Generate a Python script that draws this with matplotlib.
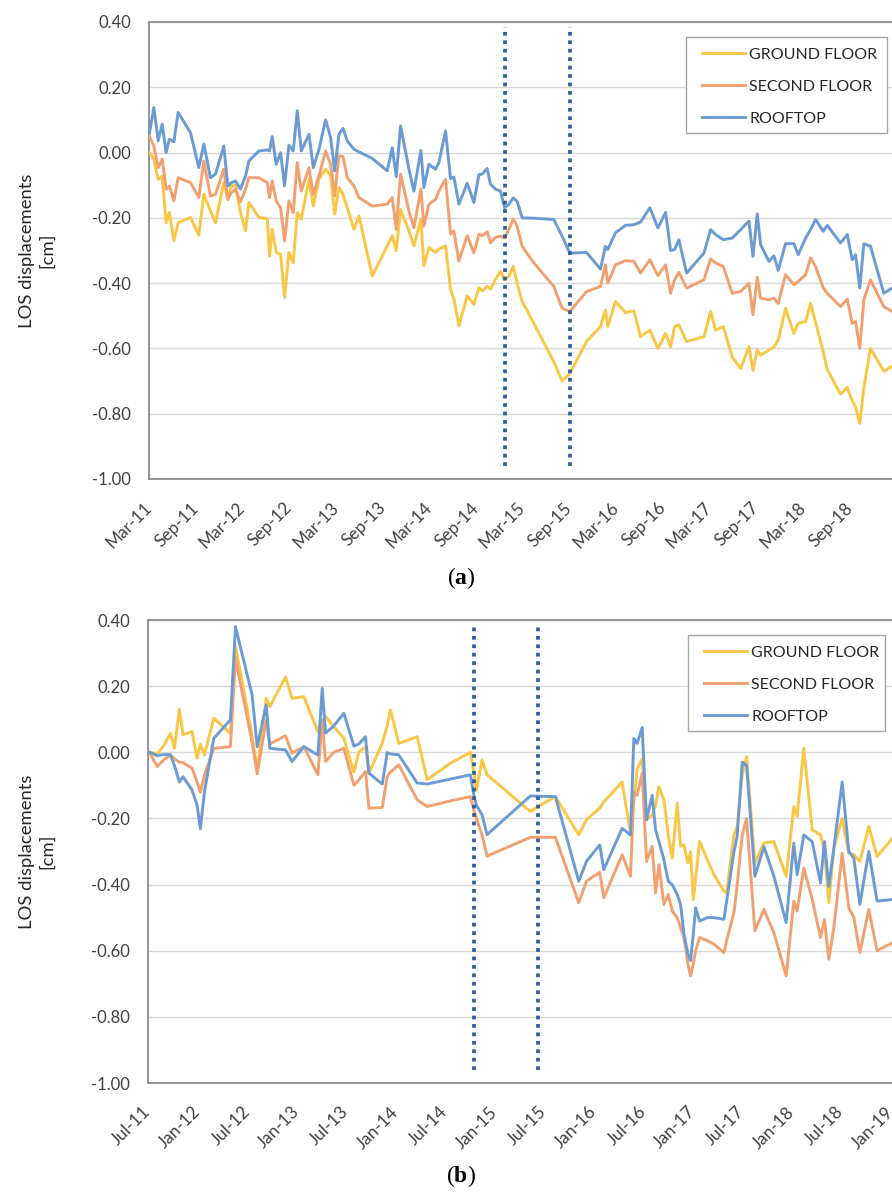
import matplotlib
matplotlib.use("Agg")
import matplotlib.pyplot as plt
import matplotlib.dates as mdates
from matplotlib.patches import Rectangle
from matplotlib.ticker import FuncFormatter
from datetime import datetime, timedelta

plt.rcParams['font.family'] = ['Lato', 'DejaVu Sans']
plt.rcParams['mathtext.fontset'] = 'custom'
plt.rcParams['mathtext.rm'] = 'Liberation Serif'
plt.rcParams['mathtext.bf'] = 'Liberation Serif:bold'

# ---------------- panel (a): acquisition dates (decimal years) and LOS displacements [cm]
years_a = [2011.167, 2011.213, 2011.260, 2011.303, 2011.345, 2011.381, 2011.428, 2011.474, 2011.606, 2011.695,
           2011.749, 2011.820, 2011.874, 2011.963, 2012.006, 2012.045, 2012.088, 2012.141, 2012.195, 2012.231,
           2012.338, 2012.427, 2012.452, 2012.480, 2012.523, 2012.570, 2012.612, 2012.659, 2012.705, 2012.748,
           2012.791, 2012.873, 2012.919, 2012.980, 2013.051, 2013.105, 2013.148, 2013.194, 2013.237, 2013.283,
           2013.355, 2013.408, 2013.551, 2013.711, 2013.765, 2013.808, 2013.854, 2013.944, 2013.997, 2014.072,
           2014.104, 2014.158, 2014.229, 2014.265, 2014.336, 2014.390, 2014.425, 2014.479, 2014.568, 2014.640,
           2014.693, 2014.729, 2014.782, 2014.818, 2014.871,
           2014.925, 2014.968, 2015.014, 2015.061, 2015.103, 2015.157, 2015.282, 2015.496, 2015.585, 2015.667,
           2015.846, 2015.996, 2016.049, 2016.074, 2016.156, 2016.263, 2016.353, 2016.424, 2016.524, 2016.610,
           2016.692, 2016.745, 2016.788, 2016.834, 2016.916, 2017.102, 2017.173, 2017.227, 2017.309, 2017.405,
           2017.495, 2017.584, 2017.627, 2017.673, 2017.709, 2017.798, 2017.852, 2017.898, 2017.976, 2018.066,
           2018.112, 2018.191, 2018.244, 2018.298, 2018.380, 2018.423, 2018.565, 2018.637, 2018.690, 2018.726,
           2018.772, 2018.815, 2018.886, 2019.029, 2019.118]

ground_a = [0.0, -0.020, -0.082, -0.072, -0.215, -0.184, -0.270, -0.215, -0.199, -0.253,
            -0.128, -0.179, -0.215, -0.092, -0.143, -0.102, -0.100, -0.184, -0.240, -0.153,
            -0.199, -0.202, -0.317, -0.235, -0.306, -0.311, -0.444, -0.306, -0.337, -0.184,
            -0.204, -0.082, -0.164, -0.082, -0.051, -0.072, -0.189, -0.107, -0.128, -0.169,
            -0.235, -0.194, -0.378, -0.286, -0.255, -0.301, -0.174, -0.240, -0.286, -0.204,
            -0.347, -0.291, -0.306, -0.296, -0.286, -0.419, -0.449, -0.531, -0.439, -0.465,
            -0.414, -0.424, -0.409, -0.419, -0.388,
            -0.364, -0.390, -0.379, -0.349, -0.400, -0.456, -0.523, -0.641, -0.700, -0.677,
            -0.579, -0.533, -0.482, -0.533, -0.456, -0.490, -0.485, -0.564, -0.544, -0.600,
            -0.554, -0.595, -0.533, -0.528, -0.579, -0.564, -0.487, -0.544, -0.533, -0.626,
            -0.662, -0.595, -0.667, -0.605, -0.621, -0.605, -0.595, -0.574, -0.477, -0.554,
            -0.523, -0.518, -0.462, -0.520, -0.610, -0.665, -0.740, -0.720, -0.760, -0.780,
            -0.830, -0.720, -0.600, -0.670, -0.655]

second_a = [0.050, 0.020, -0.046, -0.020, -0.112, -0.102, -0.148, -0.077, -0.092, -0.138,
            -0.026, -0.133, -0.128, -0.051, -0.143, -0.123, -0.112, -0.151, -0.112, -0.077,
            -0.077, -0.092, -0.138, -0.087, -0.148, -0.169, -0.271, -0.148, -0.184, -0.031,
            -0.118, -0.046, -0.128, -0.072, 0.005, -0.036, -0.133, -0.010, -0.012, -0.077,
            -0.102, -0.138, -0.164, -0.158, -0.138, -0.235, -0.066, -0.179, -0.230, -0.112,
            -0.225, -0.158, -0.143, -0.118, -0.082, -0.250, -0.240, -0.332, -0.255, -0.307,
            -0.250, -0.255, -0.243, -0.276, -0.260,
            -0.256, -0.262, -0.236, -0.203, -0.226, -0.287, -0.338, -0.410, -0.477, -0.487,
            -0.426, -0.410, -0.344, -0.400, -0.344, -0.331, -0.333, -0.369, -0.328, -0.377,
            -0.344, -0.431, -0.390, -0.367, -0.415, -0.390, -0.326, -0.338, -0.349, -0.431,
            -0.426, -0.400, -0.497, -0.382, -0.446, -0.451, -0.446, -0.462, -0.374, -0.405,
            -0.395, -0.374, -0.323, -0.349, -0.415, -0.431, -0.472, -0.449, -0.523, -0.518,
            -0.600, -0.451, -0.390, -0.472, -0.487]

rooftop_a = [0.060, 0.138, 0.036, 0.087, 0.0, 0.041, 0.033, 0.123, 0.061, -0.046,
             0.026, -0.077, -0.066, 0.020, -0.102, -0.092, -0.087, -0.112, -0.072, -0.026,
             0.005, 0.008, 0.005, 0.049, -0.036, 0.0, -0.102, 0.022, 0.005, 0.128,
             0.005, 0.056, -0.046, 0.010, 0.100, 0.046, -0.056, 0.056, 0.074, 0.036,
             0.010, 0.002, -0.018, -0.056, 0.015, -0.074, 0.082, -0.051, -0.118, 0.007,
             -0.107, -0.036, -0.051, -0.031, 0.066, -0.080, -0.075, -0.158, -0.094, -0.153,
             -0.068, -0.066, -0.049, -0.097, -0.112,
             -0.118, -0.169, -0.159, -0.139, -0.149, -0.200, -0.201, -0.205, -0.256, -0.308,
             -0.306, -0.357, -0.287, -0.297, -0.246, -0.223, -0.221, -0.213, -0.169, -0.231,
             -0.183, -0.300, -0.297, -0.267, -0.369, -0.308, -0.236, -0.251, -0.267, -0.262,
             -0.236, -0.210, -0.318, -0.188, -0.282, -0.333, -0.316, -0.361, -0.279, -0.279,
             -0.313, -0.262, -0.236, -0.205, -0.241, -0.223, -0.277, -0.251, -0.328, -0.313,
             -0.415, -0.279, -0.287, -0.431, -0.415]

events_a = ["2014-12-24", "2015-09-01"]

# ---------------- panel (b)
years_b = [2011.510, 2011.588, 2011.655, 2011.722, 2011.763, 2011.813, 2011.850, 2011.941, 2011.992, 2012.025,
           2012.066, 2012.160, 2012.328, 2012.379, 2012.547, 2012.598, 2012.689, 2012.725, 2012.884, 2012.949,
           2013.069, 2013.210, 2013.254, 2013.288, 2013.372, 2013.473, 2013.574, 2013.625, 2013.692, 2013.726,
           2013.861, 2013.911, 2013.944, 2014.028, 2014.214, 2014.315, 2014.550, 2014.752, 2014.786, 2014.813,
           2014.870, 2014.920, 2015.358, 2015.460, 2015.611, 2015.847, 2015.925, 2016.059, 2016.100, 2016.285,
           2016.369, 2016.403, 2016.436, 2016.487, 2016.531, 2016.588, 2016.622, 2016.656, 2016.706, 2016.750,
           2016.790, 2016.840, 2016.874, 2016.908, 2016.948, 2016.975, 2017.002, 2017.026, 2017.066, 2017.144,
           2017.211, 2017.312, 2017.339, 2017.413, 2017.446, 2017.497, 2017.541, 2017.625, 2017.716, 2017.817,
           2017.941, 2018.018, 2018.052, 2018.119, 2018.204, 2018.288, 2018.328, 2018.372, 2018.423, 2018.507,
           2018.574, 2018.625, 2018.686, 2018.776, 2018.860, 2019.015]

ground_b = [0.000, -0.005, 0.020, 0.057, 0.012, 0.130, 0.053, 0.063, -0.018, 0.025,
            -0.008, 0.103, 0.057, 0.320, 0.050, -0.053, 0.163, 0.138, 0.228, 0.163,
            0.168, 0.062, 0.090, 0.108, 0.077, 0.042, -0.060, 0.002, 0.015, -0.063,
            0.027, 0.080, 0.128, 0.027, 0.047, -0.083, -0.033, 0.000, -0.060, -0.114,
            -0.023, -0.068, -0.179, -0.160, -0.134, -0.250, -0.204, -0.169, -0.150, -0.090,
            -0.244, -0.150, -0.050, -0.020, -0.204, -0.190, -0.160, -0.104, -0.144, -0.250,
            -0.320, -0.154, -0.284, -0.280, -0.335, -0.300, -0.445, -0.380, -0.270, -0.325,
            -0.370, -0.420, -0.425, -0.250, -0.224, -0.068, -0.013, -0.335, -0.274, -0.270,
            -0.375, -0.164, -0.194, 0.012, -0.234, -0.250, -0.300, -0.455, -0.290, -0.200,
            -0.305, -0.310, -0.330, -0.224, -0.315, -0.260]

second_b = [0.000, -0.043, -0.023, -0.008, -0.020, -0.030, -0.031, -0.048, -0.090, -0.121,
            -0.070, 0.012, 0.017, 0.283, 0.030, -0.065, 0.098, 0.025, 0.050, -0.003,
            0.017, -0.068, 0.098, -0.028, 0.000, 0.012, -0.100, -0.083, -0.058, -0.169,
            -0.167, -0.073, -0.060, -0.038, -0.144, -0.164, -0.147, -0.134, -0.174, -0.200,
            -0.250, -0.314, -0.257, -0.257, -0.257, -0.455, -0.390, -0.363, -0.440, -0.310,
            -0.375, -0.120, -0.130, -0.063, -0.330, -0.284, -0.425, -0.340, -0.460, -0.430,
            -0.480, -0.500, -0.530, -0.560, -0.640, -0.676, -0.640, -0.600, -0.560, -0.570,
            -0.580, -0.606, -0.570, -0.485, -0.400, -0.250, -0.200, -0.540, -0.475, -0.546,
            -0.676, -0.450, -0.480, -0.350, -0.445, -0.560, -0.506, -0.626, -0.530, -0.305,
            -0.470, -0.500, -0.606, -0.475, -0.600, -0.576]

rooftop_b = [0.000, -0.010, -0.007, -0.007, -0.040, -0.090, -0.074, -0.114, -0.160, -0.231,
             -0.120, 0.042, 0.098, 0.380, 0.173, 0.017, 0.143, 0.012, 0.007, -0.028,
             0.017, -0.008, 0.193, 0.058, 0.080, 0.118, 0.019, 0.025, 0.047, -0.063,
             -0.096, -0.001, -0.005, -0.008, -0.093, -0.096, -0.081, -0.068, -0.129, -0.160,
             -0.189, -0.249, -0.132, -0.133, -0.134, -0.390, -0.330, -0.280, -0.355, -0.230,
             -0.250, 0.042, 0.027, 0.075, -0.204, -0.130, -0.234, -0.270, -0.325, -0.390,
             -0.400, -0.430, -0.460, -0.550, -0.610, -0.630, -0.550, -0.470, -0.510, -0.500,
             -0.500, -0.505, -0.450, -0.300, -0.254, -0.030, -0.040, -0.375, -0.285, -0.375,
             -0.515, -0.275, -0.370, -0.250, -0.270, -0.395, -0.270, -0.405, -0.290, -0.090,
             -0.300, -0.320, -0.460, -0.300, -0.450, -0.445]

events_b = ["2014-10-16", "2015-06-10"]

series_labels = ["GROUND FLOOR", "SECOND FLOOR", "ROOFTOP"]
series_colors = ["#F9C646", "#F2A070", "#6B9BD2"]
y_ticks = [-1.0, -0.8, -0.6, -0.4, -0.2, 0.0, 0.2, 0.4]


def to_dates(years):
    out = []
    for y in years:
        yr = int(y)
        base = datetime(yr, 1, 1)
        span = (datetime(yr + 1, 1, 1) - base).days
        out.append(base + timedelta(days=(y - yr) * span))
    return out


W, H = 892, 1193
fig = plt.figure(figsize=(W / 100, H / 100), dpi=100)
fig.patch.set_facecolor("white")


def fig_xy(px, py):
    return px / W, 1 - py / H


def make_panel(left_px, top_px, bottom_px, px_per_year, x_start, x_end,
               years, series, events, months, legend_box, first_row_y, tag, tag_y):
    width_px = (x_end - x_start).days / 365.25 * px_per_year
    ax = fig.add_axes([left_px / W, 1 - bottom_px / H, width_px / W, (bottom_px - top_px) / H])
    dates = to_dates(years)
    for vals, lab, col in zip(series, series_labels, series_colors):
        ax.plot(dates, vals, color=col, lw=2.1, label=lab, zorder=3)
    for ev in events:
        d = datetime.strptime(ev, "%Y-%m-%d")
        ax.vlines(d, -0.96, 0.385, colors="#2F609C", lw=2.7,
                  linestyles=(0, (1.0, 1.25)), zorder=5)
    ax.set_xlim(x_start, x_end)
    ax.set_ylim(-1.0, 0.4)
    ax.set_yticks(y_ticks)
    ax.yaxis.set_major_formatter(FuncFormatter(lambda v, p: f"{v:.2f}" if abs(v) > 1e-9 else "0.00"))
    ax.xaxis.set_major_locator(mdates.MonthLocator(bymonth=months))
    ax.xaxis.set_major_formatter(mdates.DateFormatter("%b-%y"))
    ax.grid(axis="y", color="#d9d9d9", lw=1.0, zorder=0)
    ax.set_axisbelow(True)
    for s in ("left", "bottom", "top"):
        ax.spines[s].set_color("#8c8c8c")
        ax.spines[s].set_linewidth(1.3)
    ax.spines["right"].set_visible(False)
    ax.tick_params(axis="y", length=0, pad=13, labelsize=12, labelcolor="#404040")
    ax.tick_params(axis="x", length=0, pad=19, labelsize=12.3, labelcolor="#404040")
    for lbl in ax.get_xticklabels():
        lbl.set_rotation(45)
        lbl.set_ha("right")
        lbl.set_va("center")
        lbl.set_rotation_mode("anchor")

    # legend frame drawn as its own rectangle, entries placed inside it
    x0, y0, x1, y1 = legend_box
    fx0, fy1 = fig_xy(x0, y1)
    frame = Rectangle((fx0, fy1), (x1 - x0) / W, (y1 - y0) / H, transform=fig.transFigure,
                      facecolor="white", edgecolor="#a6a6a6", lw=1.0, zorder=6)
    fig.add_artist(frame)
    leg = ax.legend(loc="upper left", bbox_to_anchor=fig_xy(x0 + 16, first_row_y - 5.5),
                    bbox_transform=fig.transFigure, frameon=False, borderaxespad=0,
                    borderpad=0, handlelength=2.68, handletextpad=0.28, labelspacing=1.12,
                    prop={"family": "Lato", "size": 11.5})
    leg.set_zorder(7)
    fig.add_artist(leg)
    for t in leg.get_texts():
        t.set_color("#262626")

    fig.text(37 / W, 1 - (top_px + bottom_px) / 2 / H, "LOS displacements\n[cm]", rotation=90,
             ha="center", va="center", multialignment="center", fontsize=13.3,
             color="#262626", linespacing=1.35)
    fig.text(461 / W, 1 - tag_y / H, r"($\mathbf{" + tag + r"}$)", ha="center", va="center",
             fontsize=17, family="Liberation Serif", color="black")
    return ax


make_panel(149, 22, 479, 93.4, datetime(2011, 3, 1), datetime(2019, 2, 20),
           years_a, [ground_a, second_a, rooftop_a], events_a, (3, 9),
           (686, 37, 887, 133), 53, "a", 578)
make_panel(148, 620, 1083, 99.0, datetime(2011, 7, 1), datetime(2019, 1, 25),
           years_b, [ground_b, second_b, rooftop_b], events_b, (1, 7),
           (688, 635, 885, 731), 651, "b", 1176)

fig.savefig("out.png", dpi=100, facecolor="white")
